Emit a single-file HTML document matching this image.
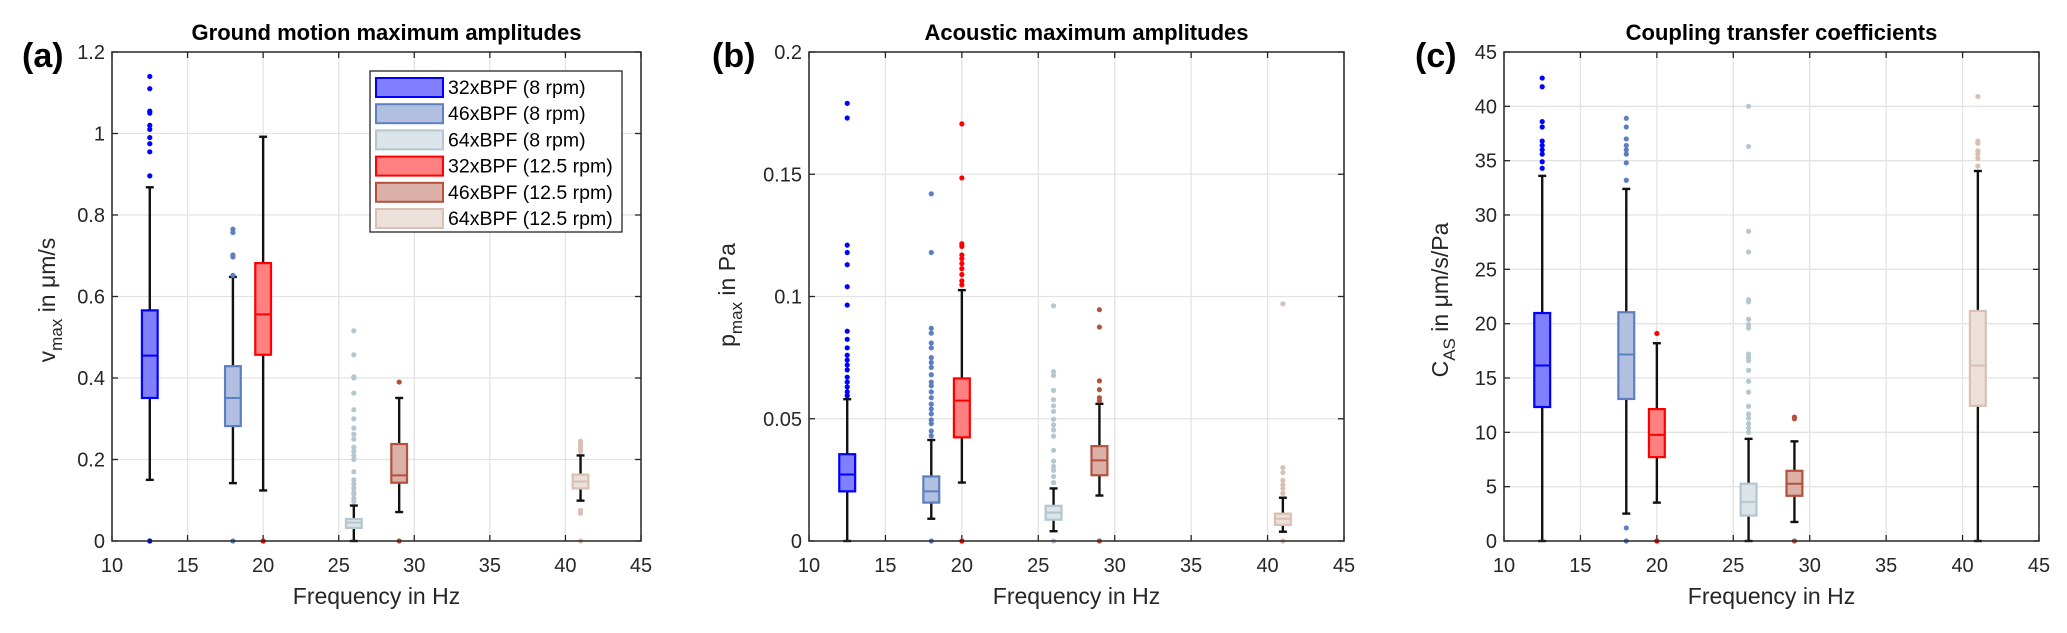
<!DOCTYPE html>
<html><head><meta charset="utf-8"><style>
html,body{margin:0;padding:0;background:#fff;}
svg{display:block;font-family:"Liberation Sans",Arial,sans-serif;}
</style></head><body>
<svg id="fig" width="2067" height="633" viewBox="0 0 2067 633" xmlns="http://www.w3.org/2000/svg"></svg>
<script>
// Shared categories (box order by frequency)
const freqs = [12.5, 18, 20, 26, 29, 41];
const boxSeries = [0, 1, 3, 2, 4, 5]; // index into seriesNames for each box
const seriesNames = ["32xBPF (8 rpm)","46xBPF (8 rpm)","64xBPF (8 rpm)","32xBPF (12.5 rpm)","46xBPF (12.5 rpm)","64xBPF (12.5 rpm)"];
const xTicks = [10,15,20,25,30,35,40,45];

// Panel (a) ground motion
const aQ1  = [0.351, 0.282, 0.457, 0.032, 0.143, 0.129];
const aMed = [0.455, 0.351, 0.556, 0.045, 0.161, 0.146];
const aQ3  = [0.566, 0.429, 0.682, 0.054, 0.238, 0.163];
const aLo  = [0.150, 0.142, 0.124, 0.0, 0.071, 0.099];
const aHi  = [0.868, 0.648, 0.992, 0.087, 0.351, 0.210];
const aOut = [
 [1.14,1.11,1.055,1.05,1.02,1.01,0.99,0.975,0.955,0.896,0],
 [0.765,0.757,0.702,0.697,0.652,0],
 [0],
 [0.516,0.457,0.403,0.400,0.363,0.322,0.30,0.277,0.262,0.25,0.23,0.22,0.21,0.20,0.17,0.15,0.14,0.13,0.12,0.115,0.105,0.097],
 [0.39,0],
 [0.245,0.24,0.235,0.23,0.225,0.22,0.075,0.068,0]
];
const aYTicks = [0,0.2,0.4,0.6,0.8,1,1.2];

// Panel (b) acoustic
const bQ1  = [0.0203, 0.0157, 0.0424, 0.0087, 0.0269, 0.0066];
const bMed = [0.0272, 0.0203, 0.0574, 0.0116, 0.033, 0.0091];
const bQ3  = [0.0355, 0.0264, 0.0665, 0.0144, 0.0388, 0.0112];
const bLo  = [0.0, 0.0091, 0.0239, 0.004, 0.0186, 0.0038];
const bHi  = [0.058, 0.0413, 0.1026, 0.0215, 0.0561, 0.0177];
const bOut = [
 [0.179,0.173,0.121,0.118,0.113,0.104,0.0965,0.0858,0.0825,0.079,0.076,0.074,0.072,0.070,0.067,0.065,0.063,0.061,0.0594],
 [0.142,0.118,0.087,0.085,0.081,0.079,0.075,0.073,0.071,0.068,0.065,0.0635,0.061,0.0586,0.056,0.054,0.052,0.0495,0.048,0.045,0.043,0],
 [0.1706,0.1485,0.1216,0.1205,0.117,0.1155,0.1135,0.1114,0.109,0.1064,0.1048,0],
 [0.0962,0.0693,0.0677,0.0616,0.0578,0.0553,0.053,0.0498,0.0475,0.0454,0.0429,0.0371,0.0327,0.0305,0.0289,0.0264,0.0239,0],
 [0.0946,0.0875,0.0655,0.0619,0.0586,0.0574,0],
 [0.097,0.030,0.028,0.0248,0.023,0.0215,0.0195,0]
];
const bYTicks = [0,0.05,0.1,0.15,0.2];

// Panel (c) coupling
const cQ1  = [12.33, 13.07, 7.72, 2.34, 4.16, 12.44];
const cMed = [16.15, 17.16, 9.77, 3.6, 5.27, 16.15];
const cQ3  = [20.98, 21.05, 12.14, 5.27, 6.46, 21.17];
const cLo  = [0, 2.52, 3.53, 0, 1.75, 0];
const cHi  = [33.6, 32.4, 18.2, 9.4, 9.17, 34.05];
const cOut = [
 [42.6,41.8,38.6,38.1,36.8,36.4,36.0,35.6,34.9,34.3],
 [38.9,38.1,37.0,36.4,36.0,35.6,34.8,33.2,1.2,0],
 [19.1,0],
 [40.0,36.3,28.5,26.6,22.2,22.0,20.4,19.9,19.6,17.2,16.9,16.6,15.7,14.7,13.7,12.4,11.7,11.3,10.8,10.4,10.0],
 [11.4,11.25,0],
 [40.9,36.8,36.6,35.9,35.6,35.2,34.5]
];
const cYTicks = [0,5,10,15,20,25,30,35,40,45];

const edge = ["#0000ff","#5b7fc0","#b4c6d0","#ff0000","#b4523f","#d9c0b2"];
const fill = ["#8080ff","#b1c0e0","#dbe4e8","#ff8080","#dbb0a6","#ece0da"];

const NS = "http://www.w3.org/2000/svg";
const svg = document.getElementById("fig");
function mk(tag, attrs, parent){
  const e = document.createElementNS(NS, tag);
  for (const k in attrs) e.setAttribute(k, attrs[k]);
  (parent||svg).appendChild(e);
  return e;
}

const panels = [
 {id:"a", L:112, R:641, T:52, B:541, ymax:1.2, q1:aQ1, med:aMed, q3:aQ3, lo:aLo, hi:aHi, out:aOut, yt:aYTicks,
  title:"Ground motion maximum amplitudes", letter:"(a)", lx:22, ylx:47, yly:300, ylab:["v","max"," in ","\u03bcm/s"], legend:true},
 {id:"b", L:809, R:1344, T:52, B:541, ymax:0.2, q1:bQ1, med:bMed, q3:bQ3, lo:bLo, hi:bHi, out:bOut, yt:bYTicks,
  title:"Acoustic maximum amplitudes", letter:"(b)", lx:712, ylx:727, yly:295, ylab:["p","max"," in Pa",""]},
 {id:"c", L:1504, R:2039, T:52, B:541, ymax:45, q1:cQ1, med:cMed, q3:cQ3, lo:cLo, hi:cHi, out:cOut, yt:cYTicks,
  title:"Coupling transfer coefficients", letter:"(c)", lx:1415, ylx:1440, yly:300, ylab:["C","AS"," in ","\u03bcm/s/Pa"]}
];

panels.forEach(p => {
  const g = mk("g", {});
  
  
  const xs = v => p.L + (v - 10) / 35 * (p.R - p.L);
  const ys = v => p.B - v / p.ymax * (p.B - p.T);
  xTicks.forEach(t => {
    const x = xs(t);
    if (t>10 && t<45) {
      const gl = mk("line", {x1:x, x2:x, y1:p.T, y2:p.B, stroke:"#e3e3e3", "stroke-width":1.3}, g);
      
      
    }
    mk("line", {x1:x, x2:x, y1:p.B, y2:p.B-6, stroke:"#262626", "stroke-width":1.3}, g);
    mk("line", {x1:x, x2:x, y1:p.T, y2:p.T+6, stroke:"#262626", "stroke-width":1.3}, g);
    const tl = mk("text", {x:x, y:572, "font-size":20, "text-anchor":"middle", fill:"#262626"}, g);
    tl.textContent = t;
    
    
  });
  p.yt.forEach(t => {
    const y = ys(t);
    if (t>0 && t<p.ymax) {
      const gl = mk("line", {x1:p.L, x2:p.R, y1:y, y2:y, stroke:"#e3e3e3", "stroke-width":1.3}, g);
      
      
    }
    mk("line", {x1:p.L, x2:p.L+6, y1:y, y2:y, stroke:"#262626", "stroke-width":1.3}, g);
    mk("line", {x1:p.R, x2:p.R-6, y1:y, y2:y, stroke:"#262626", "stroke-width":1.3}, g);
    const tl = mk("text", {x:p.L-7, y:y+7, "font-size":20, "text-anchor":"end", fill:"#262626"}, g);
    tl.textContent = t;
    
    
  });
  const hw = 0.52 / 35 * (p.R - p.L);
  freqs.forEach((f, i) => {
    const s = boxSeries[i];
    const bg = mk("g", {}, g);
    
    
    const x = xs(f);
    mk("line", {x1:x, x2:x, y1:ys(p.q3[i]), y2:ys(p.hi[i]), stroke:"#111", "stroke-width":2.4}, bg);
    mk("line", {x1:x, x2:x, y1:ys(p.q1[i]), y2:ys(p.lo[i]), stroke:"#111", "stroke-width":2.4}, bg);
    mk("line", {x1:x-4, x2:x+4, y1:ys(p.hi[i]), y2:ys(p.hi[i]), stroke:"#111", "stroke-width":2.4}, bg);
    mk("line", {x1:x-4, x2:x+4, y1:ys(p.lo[i]), y2:ys(p.lo[i]), stroke:"#111", "stroke-width":2.4}, bg);
    mk("rect", {x:x-hw, y:ys(p.q3[i]), width:2*hw, height:ys(p.q1[i])-ys(p.q3[i]), fill:fill[s], stroke:edge[s], "stroke-width":2.2}, bg);
    mk("line", {x1:x-hw, x2:x+hw, y1:ys(p.med[i]), y2:ys(p.med[i]), stroke:edge[s], "stroke-width":2}, bg);
    p.out[i].forEach(v => {
      const c = mk("circle", {cx:x, cy:ys(v), r:2.6, fill:edge[s]}, bg);
      
      
    });
  });
  const ax = mk("rect", {x:p.L, y:p.T, width:p.R-p.L, height:p.B-p.T, fill:"none", stroke:"#262626", "stroke-width":1.5}, g);
  
  
  const tt = mk("text", {x:(p.L+p.R)/2+10, y:40, "font-size":22, "font-weight":"bold", "text-anchor":"middle", fill:"#000"}, g);
  tt.textContent = p.title;
  
  
  const lt = mk("text", {x:p.lx, y:67, "font-size":34, "font-weight":"bold", fill:"#000"}, g);
  lt.textContent = p.letter;
  
  
  const xl = mk("text", {x:(p.L+p.R)/2, y:604, "font-size":23, "text-anchor":"middle", fill:"#262626"}, g);
  xl.textContent = "Frequency in Hz";
  
  
  const yl = mk("text", {x:0, y:0, "font-size":23, "text-anchor":"middle", fill:"#262626", transform:`translate(${p.ylx+8},${p.yly}) rotate(-90)`}, g);
  
  
  const s1 = mk("tspan", {}, yl); s1.textContent = p.ylab[0];
  const s2 = mk("tspan", {dy:7, "font-size":17}, yl); s2.textContent = p.ylab[1];
  const s3 = mk("tspan", {dy:-7}, yl); s3.textContent = p.ylab[2];
  if (p.ylab[3]) { const s4 = mk("tspan", {}, yl); s4.textContent = p.ylab[3]; }

  if (p.legend) {
    const lg = mk("g", {}, g);
    
    
    mk("rect", {x:370, y:71, width:252, height:161, fill:"#fff", stroke:"#262626", "stroke-width":1.3}, lg);
    seriesNames.forEach((n, i) => {
      const yy = 87 + i * 26.2;
      const e = mk("g", {}, lg);
      
      
      mk("rect", {x:376, y:yy-9, width:67, height:19, fill:fill[i], stroke:edge[i], "stroke-width":2}, e);
      const t = mk("text", {x:448, y:yy+7, "font-size":19.5, fill:"#000"}, e);
      t.textContent = n;
    });
  }
});
</script>
</body></html>
